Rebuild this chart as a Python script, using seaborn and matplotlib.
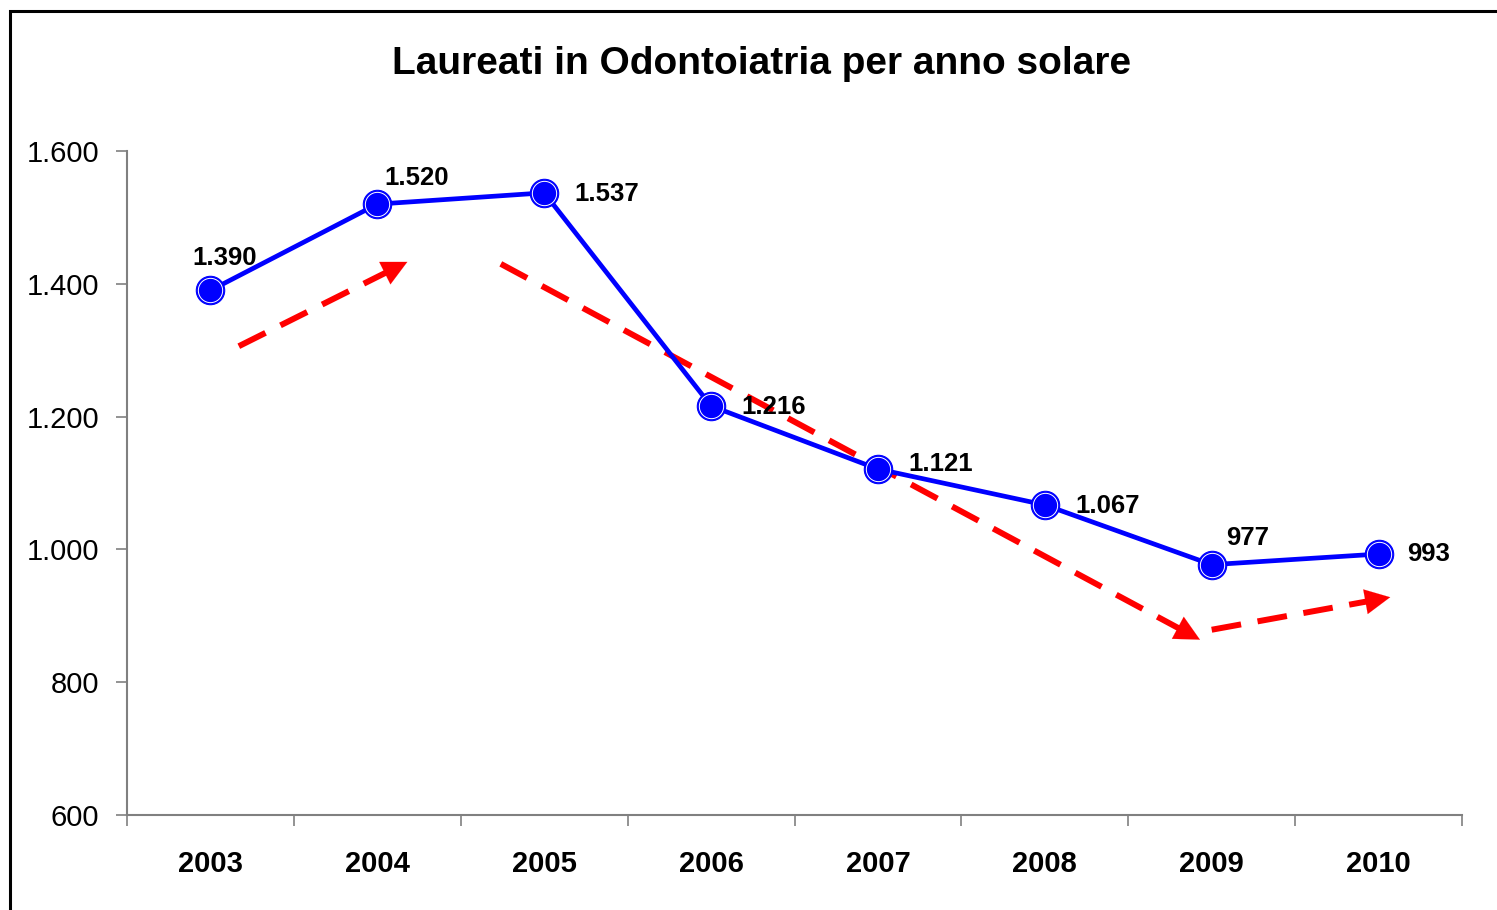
"""
Laureati in Odontoiatria per anno solare - line chart with trend arrows
"""
import matplotlib
matplotlib.use("Agg")
import matplotlib.pyplot as plt
import matplotlib.ticker as mticker
from matplotlib.patches import Rectangle
import pandas as pd
import seaborn as sns

years = ["2003", "2004", "2005", "2006", "2007", "2008", "2009", "2010"]
graduates = [1390, 1520, 1537, 1216, 1121, 1067, 977, 993]

# trend arrows (start, end) in data units: x = category index, y = value
trend_arrows = [
    ((0.17, 1306), (1.18, 1433)),
    ((1.74, 1430), (5.93, 864)),
    ((6.00, 879), (7.07, 928)),
]

# label offsets in points from each marker
label_offsets = [(10, 23), (28, 19), (45, -1), (45, -1), (45, 4), (45, -1), (26, 19), (36, 0)]

sns.set_theme(style="white")
plt.rcParams["font.family"] = ["Liberation Sans", "DejaVu Sans"]
plt.rcParams["text.color"] = "black"
plt.rcParams["xtick.color"] = "black"
plt.rcParams["ytick.color"] = "black"

df = pd.DataFrame({"idx": range(len(years)), "year": years, "value": graduates})

fig = plt.figure(figsize=(14.97, 9.10), dpi=100)
ax = fig.add_axes([127 / 1497, 95 / 910, 1335 / 1497, 664 / 910])

BLUE = "#0000ff"
sns.lineplot(data=df, x="idx", y="value", ax=ax, color=BLUE, linewidth=3.4,
             marker="o", markersize=20.5, markerfacecolor=BLUE, markeredgecolor=BLUE,
             zorder=3)
ax.plot(df["idx"], df["value"], linestyle="none", marker="o", markersize=17.5,
        markerfacecolor=BLUE, markeredgecolor="white", markeredgewidth=0.7, zorder=4)

# red dashed trend arrows
for (x0, y0), (x1, y1) in trend_arrows:
    f = 0.93 if abs(x1 - x0) < 1.5 else 0.97
    xm, ym = x0 + (x1 - x0) * f, y0 + (y1 - y0) * f
    ax.plot([x0, xm], [y0, ym], color="red", linewidth=4.3,
            linestyle=(0, (5, 2.8)), solid_capstyle="butt", zorder=2)
    ax.annotate("", xy=(x1, y1), xytext=(xm, ym),
                arrowprops=dict(arrowstyle="-|>,head_length=0.9,head_width=0.45",
                                color="red", lw=0.1, mutation_scale=20,
                                shrinkA=0, shrinkB=0), zorder=2)

for i, v in enumerate(graduates):
    lbl = f"{v:,}".replace(",", ".")
    ax.annotate(lbl, (i, v), xytext=label_offsets[i], textcoords="offset points",
                ha="center", va="center", fontsize=18.5, fontweight="bold", color="black",
                zorder=5)

ax.set_xlim(-0.5, len(years) - 0.5)
ax.set_ylim(600, 1600)
ax.set_xticks(range(len(years)))
ax.set_xticklabels(years, fontsize=21, fontweight="bold")
ax.xaxis.set_minor_locator(mticker.FixedLocator([i - 0.5 for i in range(len(years) + 1)]))
ax.tick_params(axis="x", which="major", length=0, pad=25)
ax.tick_params(axis="x", which="minor", length=8, width=1.2, color="#808080",
               direction="out", bottom=True)
ax.yaxis.set_major_locator(mticker.MultipleLocator(200))
ax.yaxis.set_major_formatter(mticker.FuncFormatter(lambda v, _: f"{v:,.0f}".replace(",", ".")))
ax.tick_params(axis="y", length=8, width=1.2, color="#808080", direction="out",
               left=True, labelsize=21, pad=12, labelcolor="black")
ax.tick_params(axis="x", labelcolor="black")
ax.set_xlabel("")
ax.set_ylabel("")
for s in ["top", "right"]:
    ax.spines[s].set_visible(False)
for s in ["left", "bottom"]:
    ax.spines[s].set_color("#808080")
    ax.spines[s].set_linewidth(1.5)

fig.text(762 / 1497, 1 - 64 / 910, "Laureati in Odontoiatria per anno solare",
         ha="center", va="center", fontsize=28, fontweight="bold", color="black")

# chart frame, cut off at right and bottom like the source
fig.patches.append(Rectangle((10 / 1497, -0.5), 2, 1.5 - 10 / 910 - 0.001,
                             transform=fig.transFigure, fill=False,
                             edgecolor="black", linewidth=2.2))

fig.savefig("out.png", dpi=100)
